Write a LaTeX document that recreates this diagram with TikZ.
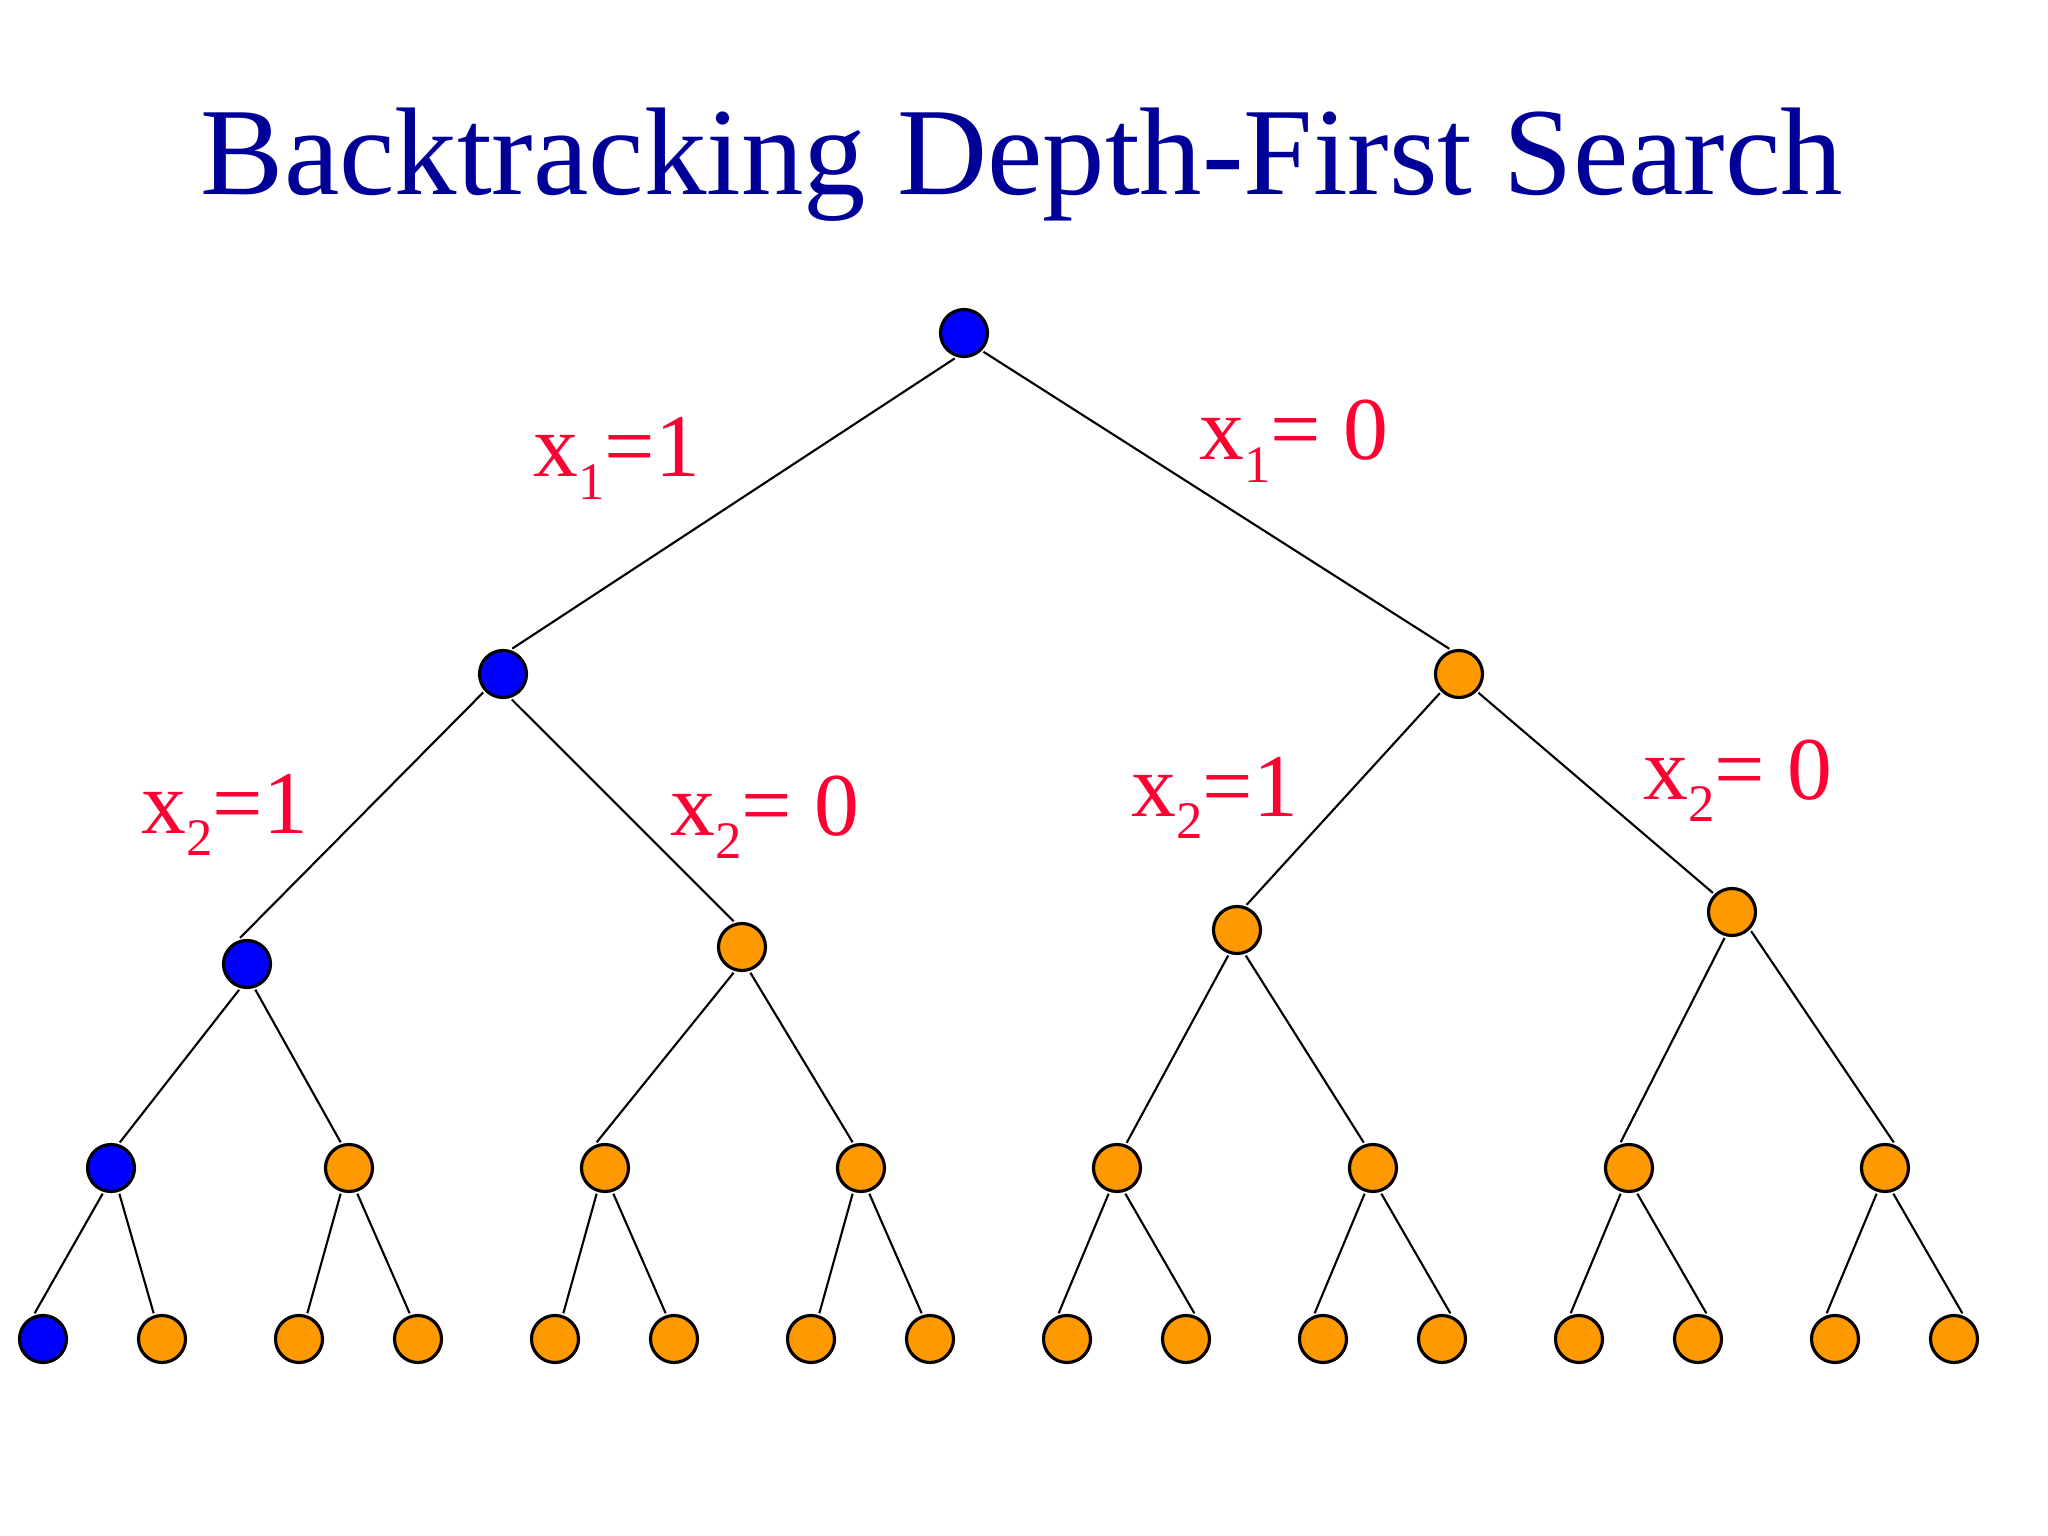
\documentclass[tikz,border=0pt]{standalone}
\usepackage{fontspec}
\setmainfont{Liberation Serif}
\usepackage{xcolor}
\usepackage{tikz}
\usetikzlibrary{positioning}
\definecolor{titlecolor}{RGB}{0, 0, 153}
\definecolor{labelcolor}{RGB}{255, 0, 51}
\definecolor{pathcolor}{RGB}{0, 0, 255}
\definecolor{leafcolor}{RGB}{255, 153, 0}
\newcommand{\xvar}[1]{x\raisebox{-6.3pt}{\fontsize{15}{15}\selectfont #1}}

\begin{document}
\begin{tikzpicture}[
    state/.style={circle, draw, line width=0.9pt, minimum size=0.47cm, inner sep=0pt, outer sep=1pt},
    visited/.style={state, fill=pathcolor},
    open/.style={state, fill=leafcolor},
    choice/.style={text=labelcolor, font=\fontsize{25.5}{25.5}\selectfont, inner sep=0pt, anchor=base west},
    edge/.style={line width=0.6pt}
]
\useasboundingbox (0,0) rectangle (20.48,-15.36);

% Title
\node[text=titlecolor, font=\fontsize{35.5}{35.5}\selectfont, anchor=base] (title) at (10.22,-1.95) {Backtracking Depth-First Search};

% Root and first choice
\node[visited] (root) at (9.64,-3.33) {};
\node[visited] (a) at (5.03,-6.74) {};
\node[open] (b) at (14.59,-6.74) {};

% Second choice
\node[visited] (aa) at (2.47,-9.64) {};
\node[open] (ab) at (7.42,-9.47) {};
\node[open] (ba) at (12.37,-9.30) {};
\node[open] (bb) at (17.32,-9.12) {};

% Third level
\node[visited] (aaa) at (1.11,-11.68) {};
\node[open] (aab) at (3.49,-11.68) {};
\node[open] (aba) at (6.05,-11.68) {};
\node[open] (abb) at (8.61,-11.68) {};
\node[open] (baa) at (11.17,-11.68) {};
\node[open] (bab) at (13.73,-11.68) {};
\node[open] (bba) at (16.29,-11.68) {};
\node[open] (bbb) at (18.85,-11.68) {};

% Leaves
\node[visited] (aaaa) at (0.43,-13.39) {};
\node[open] (aaab) at (1.62,-13.39) {};
\node[open] (aaba) at (2.99,-13.39) {};
\node[open] (aabb) at (4.18,-13.39) {};
\node[open] (abaa) at (5.55,-13.39) {};
\node[open] (abab) at (6.74,-13.39) {};
\node[open] (abba) at (8.11,-13.39) {};
\node[open] (abbb) at (9.30,-13.39) {};
\node[open] (baaa) at (10.67,-13.39) {};
\node[open] (baab) at (11.86,-13.39) {};
\node[open] (baba) at (13.23,-13.39) {};
\node[open] (babb) at (14.42,-13.39) {};
\node[open] (bbaa) at (15.79,-13.39) {};
\node[open] (bbab) at (16.98,-13.39) {};
\node[open] (bbba) at (18.35,-13.39) {};
\node[open] (bbbb) at (19.54,-13.39) {};

% Edge labels
\node[choice] (l1) at (5.33,-4.77) {\xvar{1}=1};
\node[choice] (r1) at (11.99,-4.60) {\xvar{1}= 0};
\node[choice] (l2a) at (1.41,-8.33) {\xvar{2}=1};
\node[choice] (r2a) at (6.70,-8.36) {\xvar{2}= 0};
\node[choice] (l2b) at (11.31,-8.16) {\xvar{2}=1};
\node[choice] (r2b) at (16.43,-7.99) {\xvar{2}= 0};

% Edges
\draw[edge] (root.-110) -- (a.70);
\draw[edge] (root.-44) -- (b.111);

\draw[edge] (a.-137) -- (aa.105);
\draw[edge] (a.-71) -- (ab.108);
\draw[edge] (b.-135) -- (ba.69);
\draw[edge] (b.-44) -- (bb.135);

\draw[edge] (aa.-107) -- (aaa.71);
\draw[edge] (aa.-72) -- (aab.108);
\draw[edge] (ab.-108) -- (aba.108);
\draw[edge] (ab.-72) -- (abb.108);
\draw[edge] (ba.-109) -- (baa.69);
\draw[edge] (ba.-71) -- (bab.110);
\draw[edge] (bb.-106) -- (bba.108);
\draw[edge] (bb.-45) -- (bbb.71);

\draw[edge] (aaa.-108) -- (aaaa.108);
\draw[edge] (aaa.-72) -- (aaab.108);
\draw[edge] (aab.-108) -- (aaba.72);
\draw[edge] (aab.-72) -- (aabb.108);
\draw[edge] (aba.-108) -- (abaa.72);
\draw[edge] (aba.-72) -- (abab.108);
\draw[edge] (abb.-108) -- (abba.72);
\draw[edge] (abb.-72) -- (abbb.108);
\draw[edge] (baa.-108) -- (baaa.108);
\draw[edge] (baa.-72) -- (baab.72);
\draw[edge] (bab.-108) -- (baba.108);
\draw[edge] (bab.-72) -- (babb.72);
\draw[edge] (bba.-108) -- (bbaa.108);
\draw[edge] (bba.-72) -- (bbab.72);
\draw[edge] (bbb.-108) -- (bbba.108);
\draw[edge] (bbb.-72) -- (bbbb.72);

\end{tikzpicture}
\end{document}
